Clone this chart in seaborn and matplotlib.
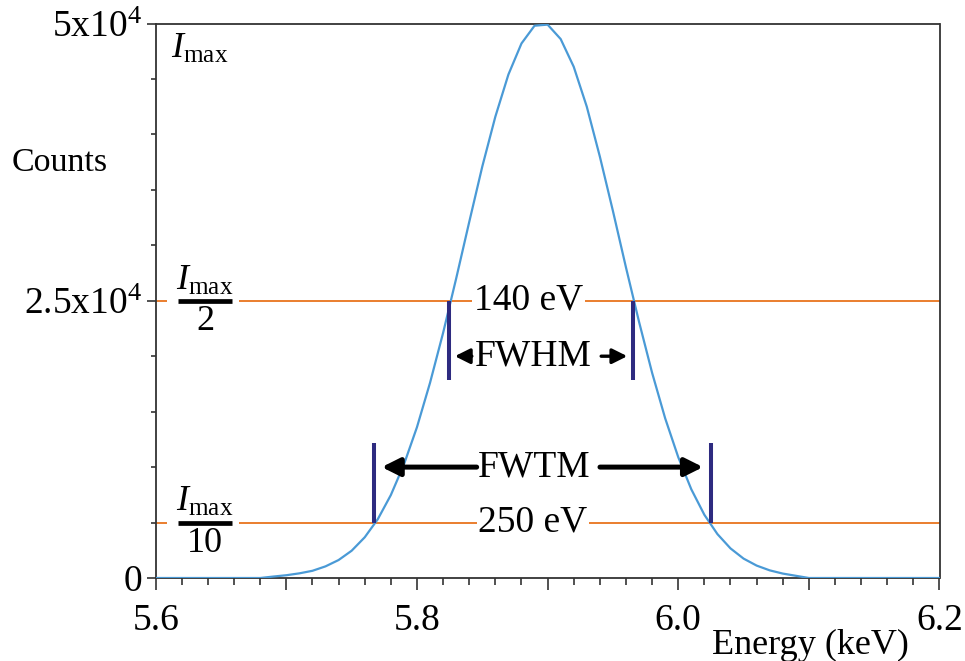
import numpy as np
import pandas as pd
import matplotlib
matplotlib.use("Agg")
import matplotlib.pyplot as plt
from matplotlib.ticker import FixedLocator, FixedFormatter, MultipleLocator
import seaborn as sns

# ---- data ----
energy_kev = [5.60, 5.61, 5.62, 5.63, 5.64, 5.65, 5.66, 5.67, 5.68, 5.69,
              5.70, 5.71, 5.72, 5.73, 5.74, 5.75, 5.76, 5.77, 5.78, 5.79,
              5.80, 5.81, 5.82, 5.83, 5.84, 5.85, 5.86, 5.87, 5.88, 5.89,
              5.90, 5.91, 5.92, 5.93, 5.94, 5.95, 5.96, 5.97, 5.98, 5.99,
              6.00, 6.01, 6.02, 6.03, 6.04, 6.05, 6.06, 6.07, 6.08, 6.09,
              6.10, 6.11, 6.12, 6.13, 6.14, 6.15, 6.16, 6.17, 6.18, 6.19, 6.20]
counts = [0, 0, 0, 0, 0, 0, 0, 0, 0, 130,
          250, 420, 650, 1050, 1620, 2460, 3670, 5300, 7480, 10230,
          13600, 17600, 22100, 27000, 32100, 37100, 41600, 45400, 48200, 49800,
          49900, 48600, 46100, 42500, 38000, 33100, 28000, 23100, 18500, 14400,
          10900, 8000, 5700, 3960, 2670, 1750, 1120, 690, 400, 200,
          0, 0, 0, 0, 0, 0, 0, 0, 0, 0, 0]

i_max = 50000
fwhm_lo, fwhm_hi = 5.8245, 5.9654
fwtm_lo, fwtm_hi = 5.7671, 6.0250
fwhm_text = "140 eV"
fwtm_text = "250 eV"

x_major = [5.6, 5.7, 5.8, 5.9, 6.0, 6.1, 6.2]
x_major_labels = ["5.6", "", "5.8", "", "6.0", "", "6.2"]
y_major = [0, 25000, 50000]
y_major_labels = ["0", r"2.5x10$^{4}$", r"5x10$^{4}$"]

df = pd.DataFrame({"Energy": energy_kev, "Counts": counts})

# ---- style ----
sns.set_theme(style="ticks")
plt.rcParams["font.family"] = ["Liberation Serif", "DejaVu Serif"]
plt.rcParams["mathtext.fontset"] = "custom"
plt.rcParams["mathtext.rm"] = "Liberation Serif"
plt.rcParams["mathtext.it"] = "Liberation Serif:italic"
plt.rcParams["mathtext.bf"] = "Liberation Serif:bold"
plt.rcParams["text.color"] = "black"
plt.rcParams["axes.labelcolor"] = "black"
plt.rcParams["xtick.labelcolor"] = "black"
plt.rcParams["ytick.labelcolor"] = "black"

FS_TICK = 27
FS_ANN = 27
curve_col = "#4a9ad6"
orange = "#e8741e"
navy = "#2e2b80"
spine_col = "#333333"

fig = plt.figure(figsize=(9.65, 6.61), dpi=100)
ax = fig.add_axes([155.7 / 965, 1 - 578 / 661, (939.5 - 155.7) / 965, (578 - 23.5) / 661])

# reference lines
ax.axhline(i_max / 2, color=orange, lw=1.3, zorder=1)
ax.axhline(i_max / 10, color=orange, lw=1.3, zorder=1)

sns.lineplot(data=df, x="Energy", y="Counts", ax=ax, color=curve_col, lw=1.6, zorder=3)

ax.set_xlim(5.6, 6.2)
ax.set_ylim(0, i_max)

# FWHM / FWTM markers
ax.vlines([fwhm_lo, fwhm_hi], 17850, i_max / 2, color=navy, lw=2.9, zorder=4)
ax.vlines([fwtm_lo, fwtm_hi], i_max / 10, 12150, color=navy, lw=2.9, zorder=4)

box = dict(facecolor="white", edgecolor="none", pad=1.0)
ax.text(5.8854, i_max / 2, fwhm_text, ha="center", va="center", fontsize=FS_ANN, bbox=box, zorder=5)
ax.text(5.8888, i_max / 10, fwtm_text, ha="center", va="center", fontsize=FS_ANN, bbox=box, zorder=5)
ax.text(5.8892, 20000, "FWHM", ha="center", va="center", fontsize=FS_ANN, zorder=5)
ax.text(5.8896, 10000, "FWTM", ha="center", va="center", fontsize=FS_ANN, zorder=5)

small = dict(arrowstyle="-|>,head_length=0.6,head_width=0.3", lw=2.4, color="black",
             mutation_scale=15, shrinkA=0, shrinkB=0)
big = dict(arrowstyle="-|>,head_length=0.6,head_width=0.3", lw=3.6, color="black",
           mutation_scale=18, shrinkA=0, shrinkB=0)
ax.annotate("", xy=(5.8290, 20000), xytext=(5.8420, 20000), arrowprops=small, zorder=5)
ax.annotate("", xy=(5.9610, 20000), xytext=(5.9410, 20000), arrowprops=small, zorder=5)
ax.annotate("", xy=(5.7730, 10000), xytext=(5.8457, 10000), arrowprops=big, zorder=5)
ax.annotate("", xy=(6.0190, 10000), xytext=(5.9401, 10000), arrowprops=big, zorder=5)

# I_max labels
ax.text((171 - 155.7) / 783.8, (578 - 49) / 554.5, r"$I_{\mathrm{max}}$", transform=ax.transAxes,
        ha="left", va="center", fontsize=FS_ANN - 1, zorder=5)

def fraction(y_val, denom):
    yf = y_val / i_max
    x0, x1 = (178 - 155.7) / 783.8, (232 - 155.7) / 783.8
    ax.plot([x0 - 0.014, x1 + 0.009], [yf, yf], transform=ax.transAxes, color="white",
            lw=3, solid_capstyle="butt", zorder=2, clip_on=False)
    ax.plot([x0, x1], [yf, yf], transform=ax.transAxes, color="black",
            lw=3.4, solid_capstyle="butt", zorder=3, clip_on=False)
    xc = (x0 + x1) / 2
    ax.text(xc, yf + 0.006, r"$I_{\mathrm{max}}$", transform=ax.transAxes, ha="center",
            va="bottom", fontsize=FS_ANN - 1, zorder=5)
    ax.text(xc, yf - 0.008, denom, transform=ax.transAxes, ha="center", va="top",
            fontsize=FS_ANN - 1, zorder=5)

fraction(i_max / 2, "2")
fraction(i_max / 10, "10")

# axes styling
for s in ax.spines.values():
    s.set_visible(True)
    s.set_color(spine_col)
    s.set_linewidth(1.3)

ax.xaxis.set_major_locator(FixedLocator(x_major))
ax.xaxis.set_major_formatter(FixedFormatter(x_major_labels))
ax.xaxis.set_minor_locator(MultipleLocator(0.02))
ax.yaxis.set_major_locator(FixedLocator(y_major))
ax.yaxis.set_major_formatter(FixedFormatter(y_major_labels))
ax.yaxis.set_minor_locator(MultipleLocator(5000))

ax.tick_params(axis="x", which="major", direction="out", length=8.6, width=1.2,
               color=spine_col, labelsize=FS_TICK, pad=10)
ax.tick_params(axis="x", which="minor", direction="out", length=4.8, width=1.2, color=spine_col)
ax.tick_params(axis="y", which="major", direction="out", length=6.5, width=1.2,
               color=spine_col, labelsize=FS_TICK, pad=3)
ax.tick_params(axis="y", which="minor", direction="out", length=3.6, width=1.2, color=spine_col)
ax.tick_params(top=False, right=False, which="both")

ax.set_ylabel("Counts", rotation=0, fontsize=24.5, ha="center", va="center")
ax.yaxis.set_label_coords((60 - 155.7) / 783.8, (578 - 163) / 554.5)
ax.set_xlabel("Energy (keV)", fontsize=26, ha="center", va="center")
ax.xaxis.set_label_coords((810 - 155.7) / 783.8, (578 - 645) / 554.5)

fig.savefig("out.png", dpi=100, facecolor="white")
